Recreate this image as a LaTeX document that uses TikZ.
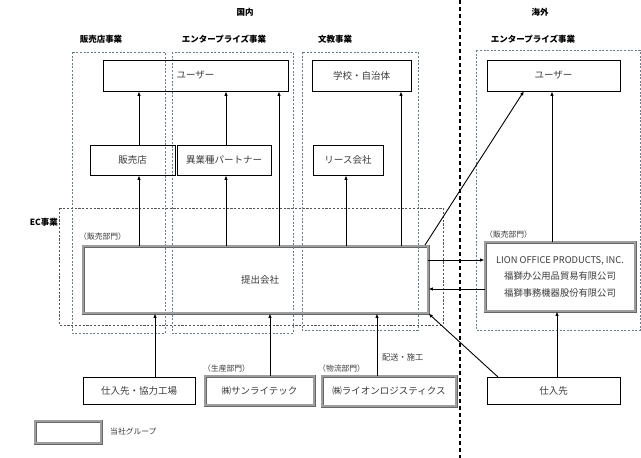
\documentclass[tikz,border=0pt]{standalone}
\usepackage{fontspec}
\setmainfont{Noto Sans CJK JP}
\usetikzlibrary{arrows.meta}
\definecolor{txt}{HTML}{3A3A3A}
\definecolor{regc}{HTML}{6A7D8C}
\definecolor{ecc}{HTML}{555555}
\begin{document}
\begin{tikzpicture}[x=1pt,y=-1pt,
  box/.style={draw=black, line width=0.8pt, text=txt, font=\fontsize{9.5}{11.5}\selectfont, inner sep=0pt},
  gbox/.style={box, draw=black!60, double=black!38, double distance=1.2pt, line width=0.9pt},
  arr/.style={-{Latex[length=4.5pt,width=3.5pt]}, line width=0.9pt},
  region/.style={draw=regc, dash pattern=on 2pt off 1.6pt, line width=0.6pt},
  ecregion/.style={draw=ecc, dash pattern=on 2.2pt off 1.6pt, line width=0.6pt},
  head/.style={font=\bfseries\fontsize{8.5}{10}\selectfont, text=black, inner sep=0pt},
  small/.style={font=\fontsize{7.8}{9}\selectfont, text=txt, inner sep=0pt},
]
\useasboundingbox (0,0) rectangle (641,458);

% divider
\draw[line width=1.1pt, dash pattern=on 4pt off 3pt] (460,0) -- (460,458);

% titles
\node[head] (tdom) at (245,12) {国内};
\node[head] (tovs) at (540,12) {海外};
\node[head] (h1) at (101,39) {販売店事業};
\node[head] (h2) at (224,39) {エンタープライズ事業};
\node[head] (h3) at (335,39) {文教事業};
\node[head] (h4) at (533,39) {エンタープライズ事業};
\node[head, anchor=east] (hec) at (58,222) {EC事業};

% regions
\draw[region] (72,52) rectangle (165,333);
\draw[region] (172,52) rectangle (293,333);
\draw[region] (302,52) rectangle (418,330);
\draw[region] (476,50) rectangle (640,330);
\draw[ecregion] (59,208) rectangle (443,325);

% boxes
\node[box, minimum width=185, minimum height=31] (userD) at (195.5,75.5) {ユーザー};
\node[box, minimum width=99, minimum height=31] (school) at (361.5,75.5) {学校・自治体};
\node[box, minimum width=133, minimum height=31] (userO) at (553.5,75.5) {ユーザー};
\node[box, minimum width=85, minimum height=30] (shop) at (132.5,160) {販売店};
\node[box, minimum width=94, minimum height=30] (partner) at (224,160) {異業種パートナー};
\node[box, minimum width=70, minimum height=30] (lease) at (348,160) {リース会社};
\node[gbox, minimum width=345, minimum height=67] (main) at (255.5,279.5) {};
\node[box, draw=none] (mainlbl) at (260,280) {提出会社};
\node[gbox, minimum width=150, minimum height=69, align=center, font=\fontsize{9.3}{16.5}\selectfont] (lion) at (560,276.5) {LION OFFICE PRODUCTS, INC.\\福獅办公用品貿易有限公司\\福獅事務機器股份有限公司};
\node[box, minimum width=112, minimum height=27] (sup1) at (139,390.5) {仕入先・協力工場};
\node[gbox, minimum width=109, minimum height=29] (sun) at (259.5,390.5) {㈱サンライテック};
\node[gbox, minimum width=134, minimum height=30] (logi) at (389,391) {㈱ライオンロジスティクス};
\node[box, minimum width=133, minimum height=27] (sup2) at (553.5,390.5) {仕入先};
\node[gbox, minimum width=66, minimum height=22] (legend) at (68,432) {};

% small labels
\node[small, anchor=west] (l1) at (79,237) {（販売部門）};
\node[small, anchor=west] (l2) at (485,235) {（販売部門）};
\node[small, anchor=west] (l3) at (203,369) {（生産部門）};
\node[small, anchor=west] (l4) at (318,369) {（物流部門）};
\node[small, anchor=west, font=\fontsize{8.2}{9}\selectfont] (l5) at (382,357) {配送・施工};
\node[small, anchor=west, font=\fontsize{7.8}{9}\selectfont] (l6) at (110,432) {当社グループ};

% x positions
\coordinate (x139) at (139,0);
\coordinate (x155) at (155,0);
\coordinate (x226) at (226,0);
\coordinate (x270) at (270,0);
\coordinate (x279) at (279,0);
\coordinate (x346) at (346,0);
\coordinate (x377) at (377,0);
\coordinate (x401) at (401,0);
\coordinate (x552) at (552,0);
\coordinate (x557) at (557,0);
\coordinate (y260) at (0,260);
\coordinate (y289) at (0,289);
\coordinate (dA) at (425,245);
\coordinate (dB) at (524,91);
\coordinate (dC) at (498,377);

% arrows
\draw[arr] (shop.north -| x139) -- (userD.south -| x139);
\draw[arr] (partner.north -| x226) -- (userD.south -| x226);
\draw[arr] (main.north -| x279) -- (userD.south -| x279);
\draw[arr] (main.north -| x139) -- (shop.south -| x139);
\draw[arr] (main.north -| x226) -- (partner.south -| x226);
\draw[arr] (main.north -| x346) -- (lease.south -| x346);
\draw[arr] (main.north -| x401) -- (school.south -| x401);
\draw[arr] (dA) -- (dB);
\draw[arr] (lion.north -| x552) -- (userO.south -| x552);
\draw[arr] (main.east |- y260) -- (lion.west |- y260);
\draw[arr] (lion.west |- y289) -- (main.east |- y289);
\draw[arr] (sup2.north -| x557) -- (lion.south -| x557);
\draw[arr] (dC) -- (main.south east);
\draw[arr] (sup1.north -| x155) -- (main.south -| x155);
\draw[arr] (sun.north -| x270) -- (main.south -| x270);
\draw[arr] (logi.north -| x377) -- (main.south -| x377);
\end{tikzpicture}
\end{document}
